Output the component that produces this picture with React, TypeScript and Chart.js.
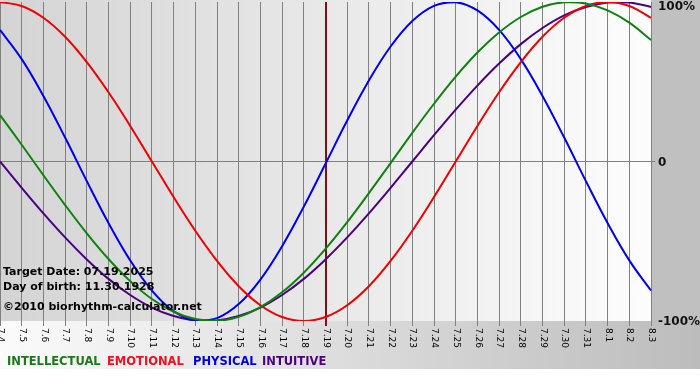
import { useEffect, useRef } from 'react';
import { Chart, registerables } from 'chart.js';
Chart.register(...registerables);

const days = ['7.4', '7.5', '7.6', '7.7', '7.8', '7.9', '7.10', '7.11', '7.12', '7.13', '7.14', '7.15', '7.16', '7.17', '7.18', '7.19', '7.20', '7.21', '7.22', '7.23', '7.24', '7.25', '7.26', '7.27', '7.28', '7.29', '7.30', '7.31', '8.1', '8.2', '8.3'];
const intellectual = [29.1, 10.5, -8.6, -27.3, -45.0, -61.1, -75.0, -86.2, -94.2, -98.8, -99.9, -97.4, -91.3, -82.0, -69.7, -54.8, -38.0, -19.8, -1.0, 18.0, 36.2, 53.2, 68.3, 80.9, 90.6, 97.0, 99.8, 99.1, 94.8, 87.1, 76.2];
const emotional = [100, 97.5, 90.1, 78.2, 62.3, 43.4, 22.3, 0, -22.3, -43.4, -62.3, -78.2, -90.1, -97.5, -100, -97.5, -90.1, -78.2, -62.3, -43.4, -22.3, 0, 22.3, 43.4, 62.3, 78.2, 90.1, 97.5, 100, 97.5, 90.1];
const physical = [82.5, 64.2, 41.1, 15.0, -12.3, -38.6, -62.0, -80.9, -93.8, -99.7, -98.2, -89.4, -74.0, -53.1, -28.3, -1.4, 25.7, 50.8, 72.1, 88.1, 97.6, 99.9, 94.7, 82.5, 64.2, 41.1, 15.0, -12.3, -38.6, -62.0, -80.9];
const intuitive = [0, -16.5, -32.5, -47.6, -61.4, -73.6, -83.7, -91.6, -96.9, -99.7, -99.7, -96.9, -91.6, -83.7, -73.6, -61.4, -47.6, -32.5, -16.5, 0, 16.5, 32.5, 47.6, 61.4, 73.6, 83.7, 91.6, 96.9, 99.7, 99.7, 96.9];
const seriesNames = ['INTELLECTUAL', 'EMOTIONAL', 'PHYSICAL', 'INTUITIVE'];
const lineColors = ['#108010', '#f00000', '#0000f0', '#4b0082'];
const legendColors = ['#1a7a1a', '#f01020', '#0000e0', '#4b0082'];
const legendX = [7, 107, 193, 262];
const targetIndex = 15;
const yTickValues = [100, 0, -100];
const yTickLabels = ['100%', '0', '-100%'];
const infoLines = ['Target Date: 07.19.2025', 'Day of birth: 11.30.1928', '\u00a92010 biorhythm-calculator.net'];

const FONT = '"DejaVu Sans", Verdana, sans-serif';

const decorPlugin = {
  id: 'decor',
  beforeDraw(chart: any) {
    const { ctx, chartArea: ca, width, height } = chart;
    ctx.save();
    ctx.fillStyle = '#ffffff';
    ctx.fillRect(0, 0, width, height);
    const gb = ctx.createLinearGradient(0, 0, width, 0);
    gb.addColorStop(0, '#fbfbfb');
    gb.addColorStop(1, '#bcbcbc');
    ctx.fillStyle = gb;
    ctx.fillRect(0, ca.bottom, width, 48);
    ctx.fillStyle = '#c0c0c0';
    ctx.fillRect(ca.right, 0, width - ca.right, ca.bottom);
    const gp = ctx.createLinearGradient(ca.left, 0, ca.right, 0);
    gp.addColorStop(0, '#d4d4d4');
    gp.addColorStop(1, '#fdfdfd');
    ctx.fillStyle = gp;
    ctx.fillRect(ca.left, 0, ca.right - ca.left, ca.bottom);
    ctx.restore();
  },
  afterDraw(chart: any) {
    const { ctx, chartArea: ca } = chart;
    const xs = chart.scales.x;
    const ys = chart.scales.y;
    ctx.save();
    ctx.fillStyle = '#000000';
    ctx.font = '9px ' + FONT;
    ctx.textAlign = 'left';
    ctx.textBaseline = 'middle';
    days.forEach((d, i) => {
      const x = xs.getPixelForValue(i);
      ctx.save();
      ctx.translate(x + 0.5, ca.bottom + 7);
      ctx.rotate(Math.PI / 2);
      ctx.fillText(d, 0, 0);
      ctx.restore();
    });
    ctx.font = 'bold 12px ' + FONT;
    ctx.fillStyle = '#111111';
    const yOff = [5, 1, 1];
    yTickValues.forEach((v, i) => {
      ctx.fillText(yTickLabels[i], ca.right + 7, ys.getPixelForValue(v) + yOff[i]);
    });
    ctx.font = 'bold 11px ' + FONT;
    ctx.fillStyle = '#000000';
    const infoY = [272, 287, 307];
    infoLines.forEach((t, i) => ctx.fillText(t, 3, infoY[i]));
    ctx.font = 'bold 11.5px ' + FONT;
    chart.data.datasets.forEach((ds: any, i: number) => {
      ctx.fillStyle = legendColors[i];
      ctx.fillText(ds.label, legendX[i], 362);
    });
    ctx.restore();
  },
};

export default function App() {
  const ref = useRef<HTMLCanvasElement | null>(null);
  useEffect(() => {
    if (!ref.current) return;
    const series = [intellectual, emotional, physical, intuitive];
    const chart = new Chart(ref.current, {
      type: 'line',
      data: {
        labels: days,
        datasets: series.map((s, i) => ({
          label: seriesNames[i],
          data: s,
          borderColor: lineColors[i],
          borderWidth: 2,
          pointRadius: 0,
          tension: 0.4,
          fill: false,
        })),
      },
      options: {
        responsive: false,
        animation: false,
        layout: { padding: { top: 2, left: 0, right: 0, bottom: 0 } },
        plugins: { legend: { display: false }, tooltip: { enabled: false } },
        scales: {
          x: {
            type: 'category',
            offset: false,
            border: { display: false },
            ticks: { display: false },
            grid: {
              drawTicks: true,
              tickLength: 5,
              color: (c: any) => (c.index === targetIndex ? '#7a1414' : '#808080'),
              lineWidth: (c: any) => (c.index === targetIndex ? 2 : 1),
            },
            afterFit: (s: any) => {
              s.height = 59;
            },
          },
          y: {
            position: 'right',
            min: -100,
            max: 100,
            border: { display: false },
            ticks: { display: false, stepSize: 100 },
            grid: {
              drawTicks: true,
              tickLength: 4,
              color: (c: any) => (c.tick && c.tick.value === 0 ? '#808080' : 'rgba(0,0,0,0)'),
            },
            afterFit: (s: any) => {
              s.width = 49;
            },
          },
        },
      },
      plugins: [decorPlugin],
    });
    return () => chart.destroy();
  }, []);
  return (
    <div style={{ position: 'absolute', left: 0, top: 0, width: 700, height: 380 }}>
      <canvas ref={ref} width={700} height={380} style={{ display: 'block' }} />
    </div>
  );
}
